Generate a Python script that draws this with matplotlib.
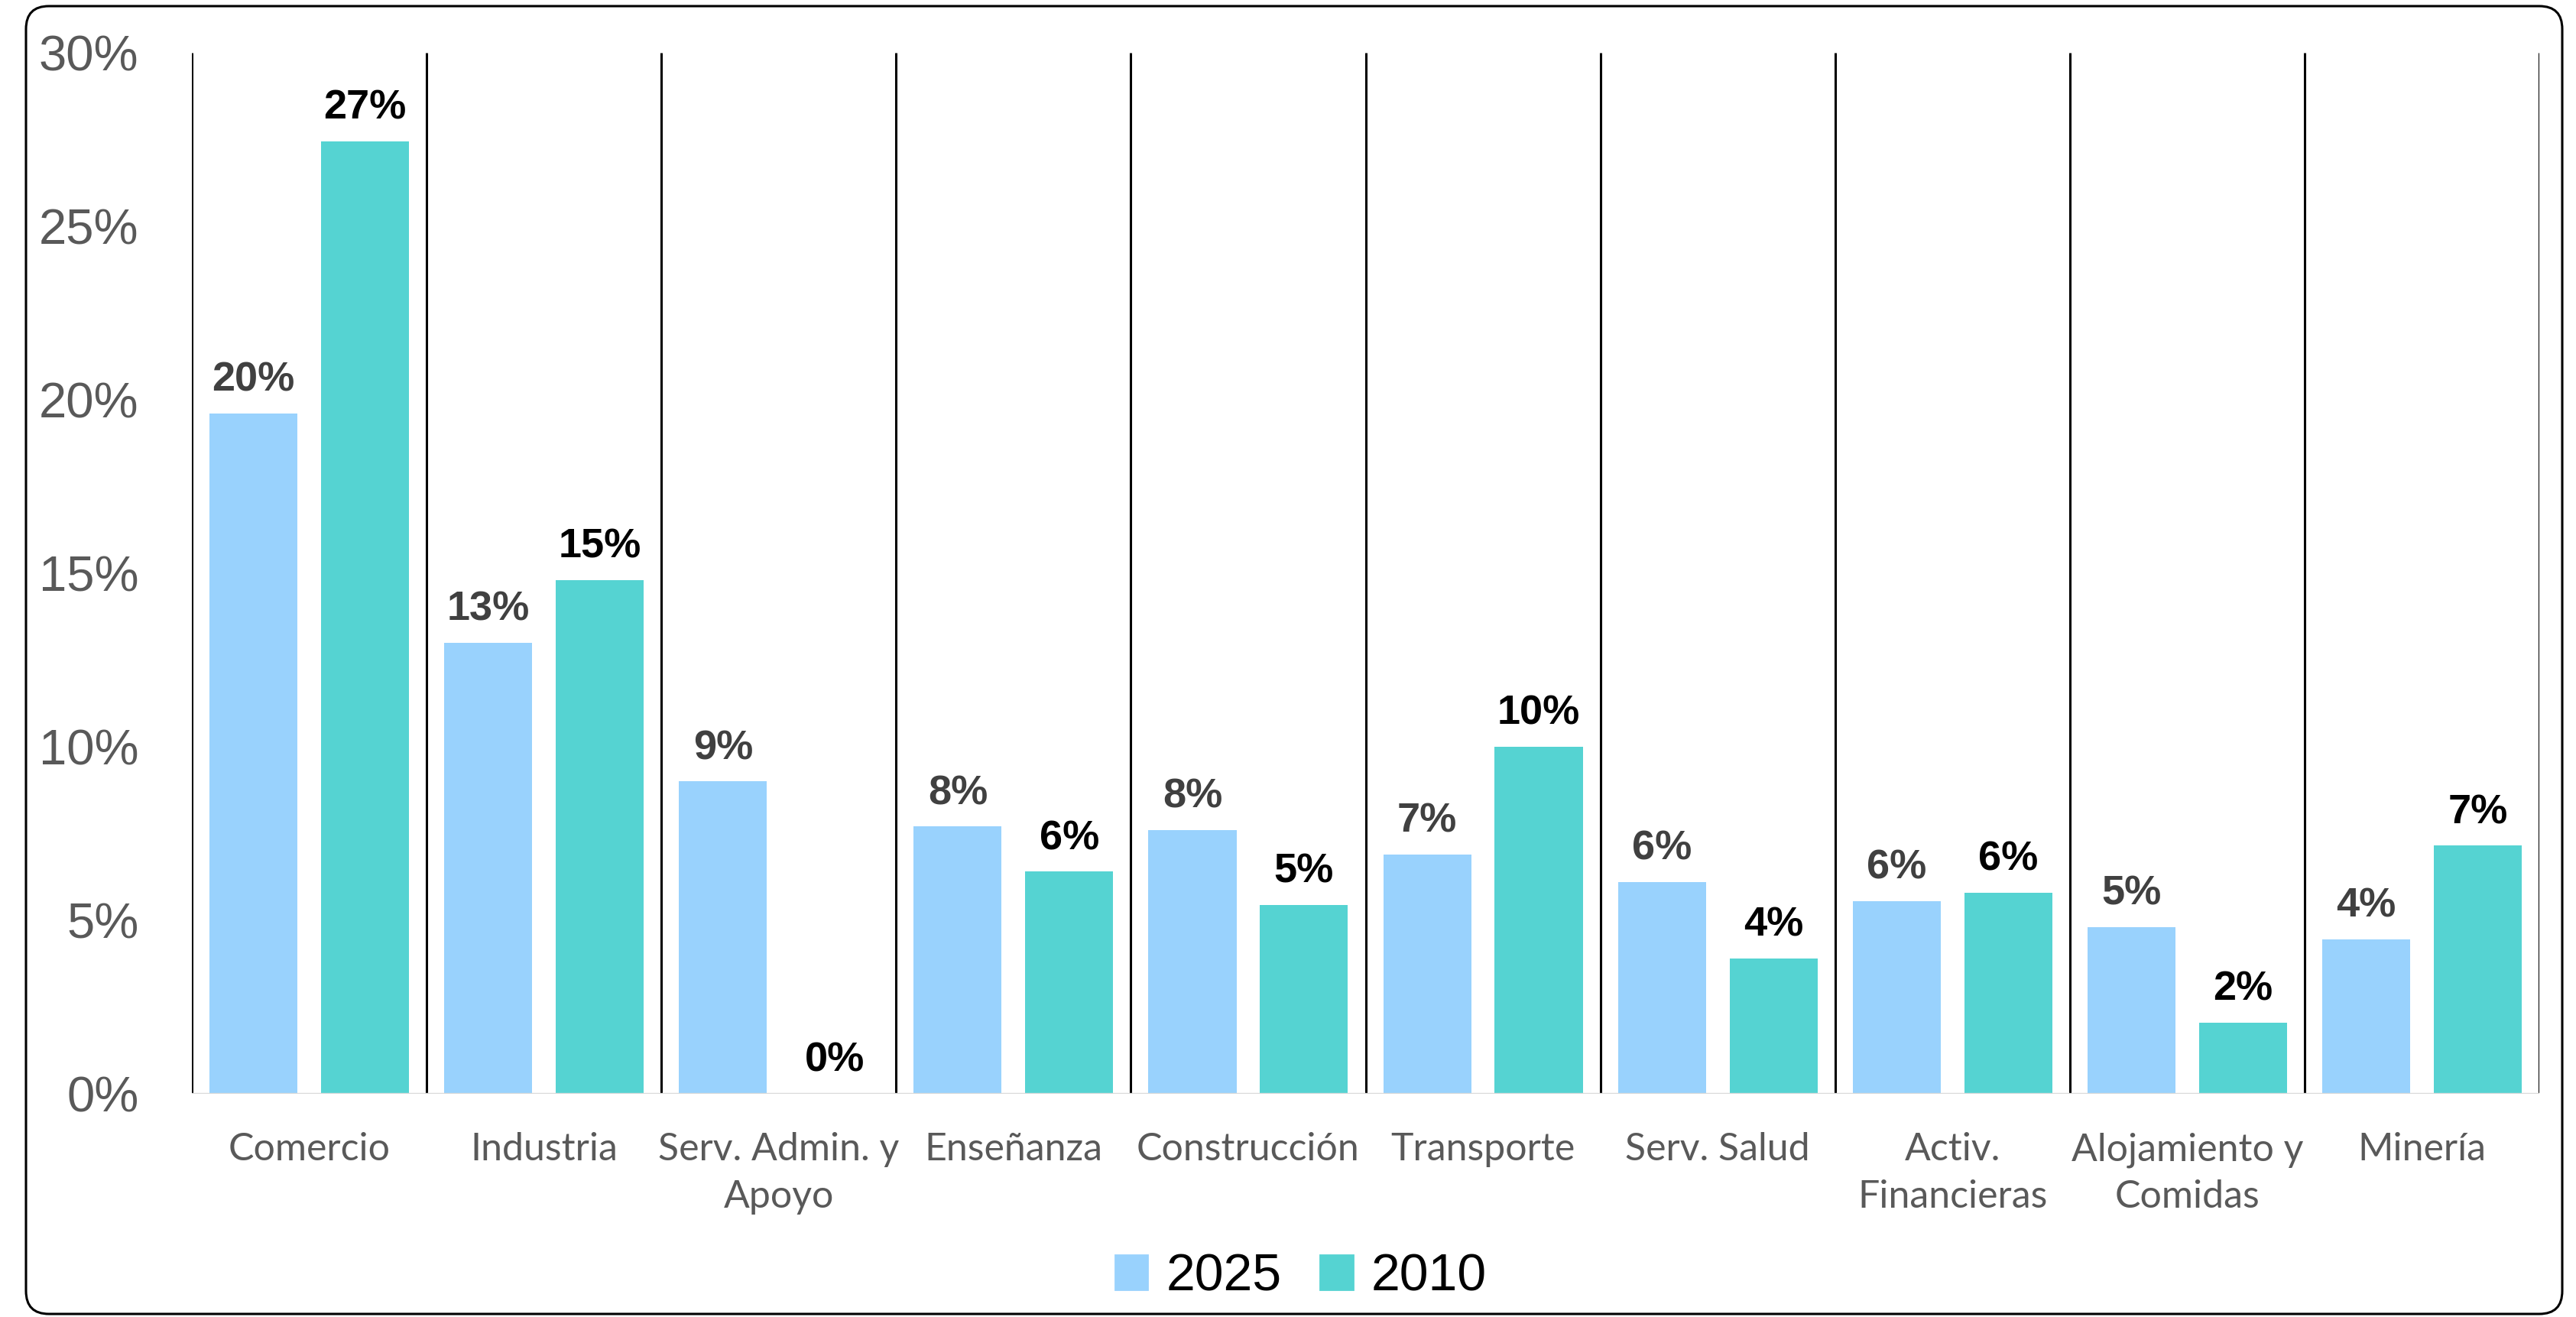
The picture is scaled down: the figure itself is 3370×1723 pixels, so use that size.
import matplotlib
matplotlib.use("Agg")
import matplotlib.pyplot as plt
import numpy as np
from matplotlib.patches import FancyBboxPatch, Patch

# Participación por sector (%)
CATEGORIES = ["Comercio", "Industria", "Serv. Admin. y\nApoyo", "Enseñanza",
              "Construcción", "Transporte", "Serv. Salud", "Activ.\nFinancieras",
              "Alojamiento y\nComidas", "Minería"]
SHARE_2025 = [19.6, 13.0, 9.0, 7.7, 7.6, 6.9, 6.1, 5.55, 4.8, 4.45]
SHARE_2010 = [27.45, 14.8, 0.0, 6.4, 5.45, 10.0, 3.9, 5.8, 2.05, 7.15]
Y_TICKS = [0, 5, 10, 15, 20, 25, 30]
SERIES = ["2025", "2010"]

C_2025 = "#99D2FD"
C_2010 = "#55D3D2"

W, H, DPI = 3370, 1723, 200
fig = plt.figure(figsize=(W / DPI, H / DPI), dpi=DPI)
ax = fig.add_axes([251 / W, 1 - 1431 / H, (3322 - 251) / W, (1431 - 69) / H])

x = np.arange(len(CATEGORIES))
bw = 0.375
off = 0.2375
bars_a = ax.bar(x - off, SHARE_2025, width=bw, color=C_2025, zorder=2)
bars_b = ax.bar(x + off, SHARE_2010, width=bw, color=C_2010, zorder=2)

lab_kw = dict(textcoords="offset points", xytext=(0, 10.5), ha="center",
              va="baseline", fontsize=19.5, fontweight="bold",
              family="Liberation Sans")
for b, v in zip(bars_a, SHARE_2025):
    ax.annotate(f"{v:.0f}%", (b.get_x() + b.get_width() / 2, v),
                color="#404040", **lab_kw)
for b, v in zip(bars_b, SHARE_2010):
    ax.annotate(f"{v:.0f}%", (b.get_x() + b.get_width() / 2, v),
                color="black", **lab_kw)

# category separators and baseline
ax.vlines(np.arange(len(CATEGORIES) + 1) - 0.5, 0, 30, color="black",
          lw=1.1, zorder=3)
ax.axhline(0, color="#D9D9D9", lw=1.2, zorder=4)

ax.set_xlim(-0.5, len(CATEGORIES) - 0.5)
ax.set_ylim(0, 30)
ax.set_yticks(Y_TICKS)
ax.set_yticklabels([f"{t}%" for t in Y_TICKS], fontsize=23.5,
                   color="#595959", family="Liberation Sans")
ax.set_xticks(x)
ax.set_xticklabels(CATEGORIES, fontsize=18, color="#595959", family="Lato",
                   linespacing=1.42)
ax.tick_params(axis="y", length=0, pad=25)
ax.tick_params(axis="x", length=0, pad=18)
for s in ax.spines.values():
    s.set_visible(False)

handles = [Patch(color=C_2025, label=SERIES[0]),
           Patch(color=C_2010, label=SERIES[1])]
fig.legend(handles=handles, loc="center", bbox_to_anchor=(0.505, 0.0305),
           ncol=2, frameon=False, prop={"family": "Liberation Sans", "size": 24.5},
           handlelength=0.62, handleheight=0.62, handletextpad=0.35,
           columnspacing=0.75)

# rounded outer frame
frame = FancyBboxPatch((0.17, 0.02), 16.59, 8.555,
                       boxstyle="round,pad=0,rounding_size=0.15",
                       transform=fig.dpi_scale_trans, fill=False,
                       ec="black", lw=1.1)
fig.add_artist(frame)

fig.savefig("out.png", dpi=DPI)
